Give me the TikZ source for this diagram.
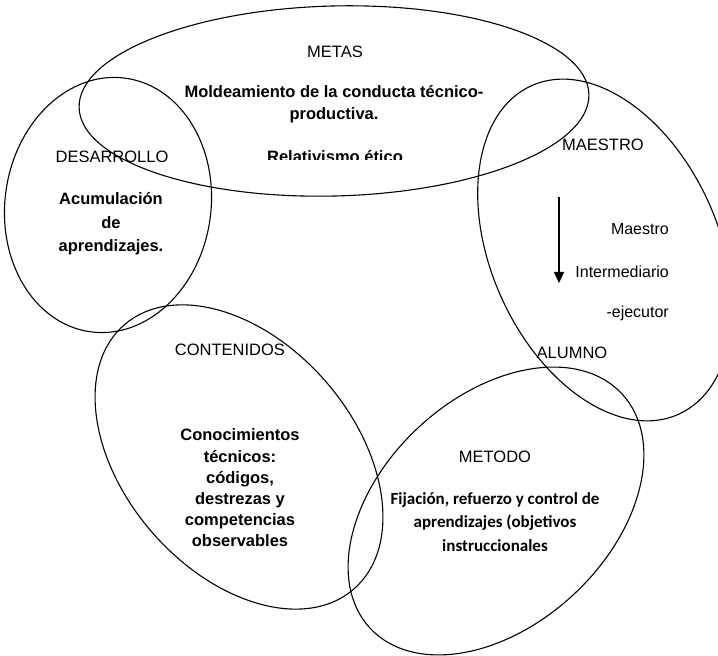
\documentclass[tikz,border=0pt]{standalone}
\usepackage{fontspec}
\setmainfont{Liberation Sans}
\newfontfamily\calibri{Carlito}
\usetikzlibrary{shapes.geometric,arrows.meta}
\begin{document}
\begin{tikzpicture}[x=1pt,y=1pt,
  ring/.style={draw=black, line width=1.1pt, ellipse, inner sep=0pt},
  title/.style={inner sep=0pt, font=\fontsize{16.5}{20}\selectfont},
  body/.style={inner sep=0pt, align=center, font=\fontsize{16.5}{#1}\selectfont\bfseries},
  body/.default=22,
  side/.style={inner sep=0pt, anchor=base east, font=\fontsize{16}{20}\selectfont}]
\useasboundingbox (0,0) rectangle (718,656);

% the five areas
\node[ring, minimum width=510pt, minimum height=190pt, rotate=1.5] (metas) at (334,555) {};
\node[ring, minimum width=206pt, minimum height=256pt, rotate=-8] (desarrollo) at (108,451) {};
\node[ring, minimum width=228pt, minimum height=360pt, rotate=24] (maestro) at (605,406) {};
\node[ring, minimum width=350pt, minimum height=230pt, rotate=-49] (contenidos) at (239,199) {};
\node[ring, minimum width=344pt, minimum height=228pt, rotate=43] (metodo) at (496,145) {};

% METAS
\node[title] (tMetas) at (335,604) {METAS};
\node[body] (bMetas) at (334,552) {Moldeamiento de la conducta técnico-\\productiva.};
\begin{scope}
  \clip (200,496.5) rectangle (470,520);
  \node[inner sep=0pt, anchor=base, font=\fontsize{16.5}{20}\selectfont\bfseries] (bRelat) at (335,493) {Relativismo ético};
\end{scope}

% DESARROLLO
\node[title] (tDes) at (112,499) {DESARROLLO};
\node[body=23.5] (bDes) at (111,432) {Acumulación\\de\\aprendizajes.};

% MAESTRO
\node[title] (tMaestro) at (603,511) {MAESTRO};
\coordinate (aTop) at (559,459);
\coordinate (aBot) at (559,373);
\draw[line width=1.2pt, -{Triangle[length=11pt,width=10pt]}] (aTop) -- (aBot);
\node[side] (sM) at (669,421) {Maestro};
\node[side] (sI) at (669,378) {Intermediario};
\node[side] (sE) at (669,338) {-ejecutor};
\node[title] (tAlumno) at (572,303) {ALUMNO};

% CONTENIDOS
\node[title] (tCont) at (230,306) {CONTENIDOS};
\node[body=21.2] (bCont) at (240,168) {Conocimientos\\técnicos:\\códigos,\\destrezas y\\competencias\\observables};

% METODO
\node[title] (tMetodo) at (495,199) {METODO};
\node[inner sep=0pt, align=center, font=\calibri\fontsize{17}{23.5}\selectfont\bfseries] (bMetodo) at (495,134) {Fijación, refuerzo y control de\\aprendizajes (objetivos\\instruccionales};
\end{tikzpicture}
\end{document}
